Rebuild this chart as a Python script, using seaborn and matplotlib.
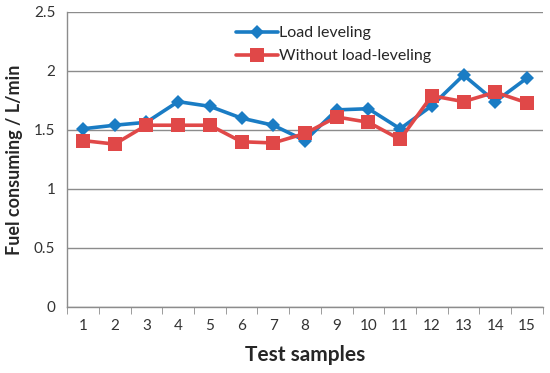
import pandas as pd
import seaborn as sns
import matplotlib.pyplot as plt
from matplotlib.ticker import FixedLocator

# Data
samples = list(range(1, 16))
load_leveling = [1.51, 1.54, 1.565, 1.74, 1.70, 1.60, 1.54, 1.41,
                 1.67, 1.68, 1.51, 1.705, 1.965, 1.74, 1.94]
without_leveling = [1.41, 1.38, 1.54, 1.54, 1.54, 1.40, 1.39, 1.47,
                    1.61, 1.565, 1.42, 1.79, 1.74, 1.82, 1.73]
series_names = ['Load leveling', 'Without load-leveling']
y_ticks = [0, 0.5, 1, 1.5, 2, 2.5]
y_tick_labels = ['0', '0.5', '1', '1.5', '2', '2.5']

df = pd.DataFrame({
    'sample': samples * 2,
    'fuel': load_leveling + without_leveling,
    'series': [series_names[0]] * 15 + [series_names[1]] * 15,
})

sns.set_style('white')
plt.rcParams['font.family'] = ['Lato', 'DejaVu Sans']

fig, ax = plt.subplots(figsize=(5.5, 3.73), dpi=100)
fig.subplots_adjust(left=0.122, right=0.987, top=0.968, bottom=0.177)

ax.yaxis.grid(True, color='#8c8c8c', linewidth=1)
ax.set_axisbelow(True)

sns.lineplot(data=df, x='sample', y='fuel', hue='series', style='series',
             palette=['#1a7cc4', '#e04848'], markers=['D', 's'],
             dashes=False, linewidth=2.6, markeredgewidth=0,
             ax=ax)
# marker sizes per series
marker_sizes = [7, 9.5]
for line, ms in zip(ax.lines[:2], marker_sizes):
    line.set_markersize(ms)

ax.set_xlim(0.5, 15.5)
ax.set_ylim(0, 2.5)
ax.set_yticks(y_ticks)
ax.set_yticklabels(y_tick_labels)
ax.set_xticks(samples)
ax.xaxis.set_minor_locator(FixedLocator([i + 0.5 for i in range(0, 16)]))
ax.tick_params(axis='x', which='major', length=0, pad=9, labelsize=11, colors='#333333')
ax.tick_params(axis='x', which='minor', length=5, color='#8c8c8c', direction='out', bottom=True)
ax.tick_params(axis='y', length=5, direction='out', labelsize=11, colors='#333333')
ax.tick_params(axis='y', color='#8c8c8c')

for s in ['top', 'right']:
    ax.spines[s].set_visible(False)
for s in ['left', 'bottom']:
    ax.spines[s].set_color('#8c8c8c')
    ax.spines[s].set_linewidth(1)

ax.set_xlabel('Test samples', fontsize=15, fontweight='bold', labelpad=8)
ax.set_ylabel('Fuel consuming / L/min', fontsize=13, fontweight='bold', labelpad=8)

handles, labels = ax.get_legend_handles_labels()
leg = ax.legend(handles, labels, loc='upper left', bbox_to_anchor=(0.325, 1.0),
                frameon=False, fontsize=11.5, handlelength=2.6, handletextpad=0.1,
                labelspacing=0.55)
for h, ms in zip(leg.get_lines(), marker_sizes):
    h.set_markersize(ms)
    h.set_linewidth(2.6)

fig.savefig('out.png')
